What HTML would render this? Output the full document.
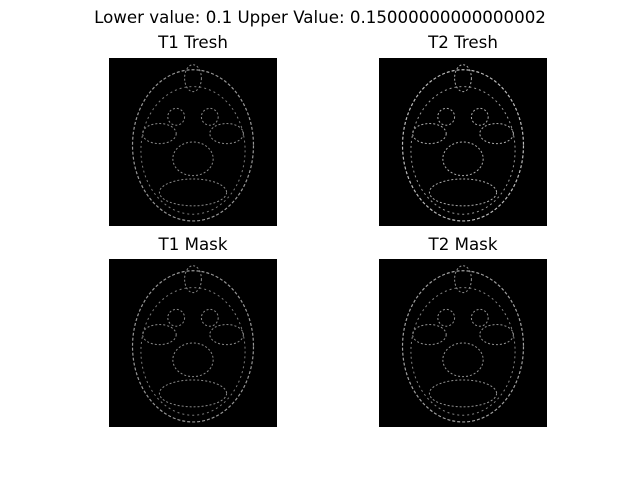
<!DOCTYPE html>
<html>
<head>
<meta charset="utf-8">
<style>
  html,body{margin:0;padding:0;background:#fff;}
  body{width:640px;height:480px;position:relative;overflow:hidden;font-family:"DejaVu Sans","Liberation Sans",sans-serif;}
  .t{position:absolute;font-size:16.67px;color:#000;white-space:nowrap;transform:translateX(-50%);line-height:19px;}
  svg{position:absolute;left:0;top:0;}
</style>
</head>
<body>
<div class="t" style="left:320px;top:8px;">Lower value: 0.1 Upper Value: 0.15000000000000002</div>
<div class="t" style="left:193px;top:33px;">T1 Tresh</div>
<div class="t" style="left:463px;top:33px;">T2 Tresh</div>
<div class="t" style="left:193px;top:235px;">T1 Mask</div>
<div class="t" style="left:463px;top:235px;">T2 Mask</div>
<svg id="fig" width="640" height="480"></svg>
<script>
const panels = [
  {name:'t1-tresh-image', x:109, y:58, b:0.8},
  {name:'t2-tresh-image', x:379, y:58, b:1.0},
  {name:'t1-mask-image', x:109, y:259, b:0.8},
  {name:'t2-mask-image', x:379, y:259, b:0.85}
];
const structures = [[0.5,0.12,0.05,0.08],[0.3,0.45,0.1,0.06],[0.7,0.45,0.1,0.06],[0.5,0.6,0.12,0.1],[0.5,0.8,0.2,0.08],[0.4,0.35,0.05,0.05],[0.6,0.35,0.05,0.05]];
const S = 168;
const svg = document.getElementById('fig');
const ns = 'http://www.w3.org/2000/svg';
panels.forEach(p=>{
  const g = document.createElementNS(ns,'g');
  
  
  const r = document.createElementNS(ns,'rect');
  r.setAttribute('x',p.x);r.setAttribute('y',p.y);r.setAttribute('width',S);r.setAttribute('height',S);r.setAttribute('fill','#000');
  g.appendChild(r);
  const e1 = document.createElementNS(ns,'ellipse');
  e1.setAttribute('cx',p.x+S*0.5);e1.setAttribute('cy',p.y+S*0.52);e1.setAttribute('rx',S*0.36);e1.setAttribute('ry',S*0.45);
  e1.setAttribute('fill','none');e1.setAttribute('stroke','#bbb');e1.setAttribute('stroke-width',1.2);e1.setAttribute('stroke-dasharray','3 2');e1.setAttribute('opacity',p.b);
  g.appendChild(e1);
  const e2 = document.createElementNS(ns,'ellipse');
  e2.setAttribute('cx',p.x+S*0.5);e2.setAttribute('cy',p.y+S*0.55);e2.setAttribute('rx',S*0.31);e2.setAttribute('ry',S*0.38);
  e2.setAttribute('fill','none');e2.setAttribute('stroke','#999');e2.setAttribute('stroke-width',1);e2.setAttribute('stroke-dasharray','2 3');e2.setAttribute('opacity',p.b);
  g.appendChild(e2);
  structures.forEach(s=>{
    const e = document.createElementNS(ns,'ellipse');
    e.setAttribute('cx',p.x+S*s[0]);e.setAttribute('cy',p.y+S*s[1]);e.setAttribute('rx',S*s[2]);e.setAttribute('ry',S*s[3]);
    e.setAttribute('fill','none');e.setAttribute('stroke','#aaa');e.setAttribute('stroke-width',1);e.setAttribute('stroke-dasharray','2 2');e.setAttribute('opacity',p.b);
    g.appendChild(e);
  });
  svg.appendChild(g);
});
</script>
</body>
</html>
